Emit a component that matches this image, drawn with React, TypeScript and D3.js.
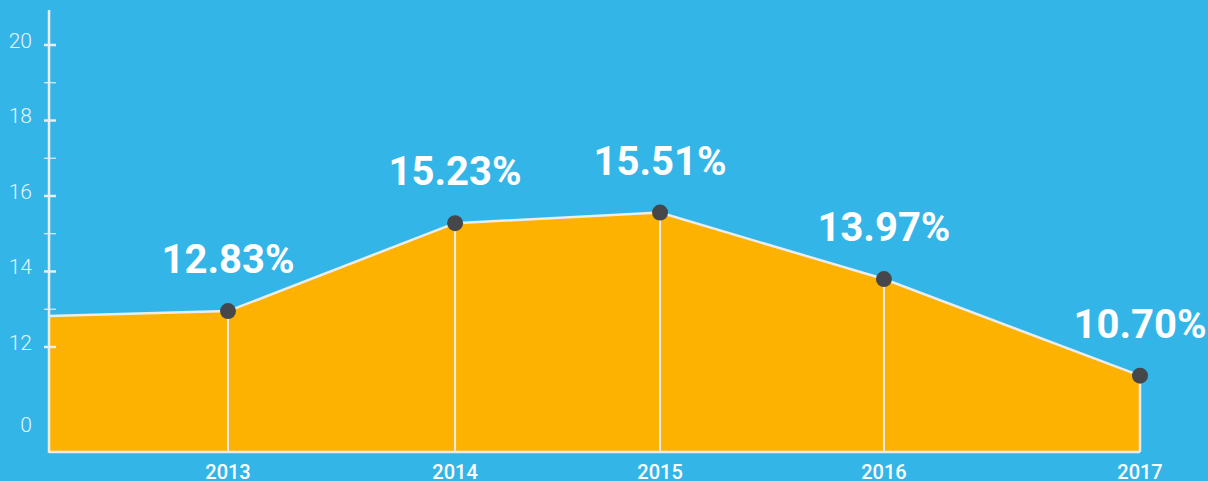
import React from "react";
import * as d3 from "d3";

// Data
const years = ["2013", "2014", "2015", "2016", "2017"];
const labels = ["12.83%", "15.23%", "15.51%", "13.97%", "10.70%"];
// plotted positions (x as decimal year, y as axis value)
const pointX = [2013, 2013.996, 2014.895, 2015.877, 2017];
const pointY = [12.95, 15.28, 15.56, 13.8, 11.24];
const startX = 2012.215;
const startY = 12.82;
const majorTicks = [0, 12, 14, 16, 18, 20];
const minorTicks = [13, 15, 17, 19];

const W = 1208;
const H = 481;
const BG = "#34B5E8";
const ORANGE = "#FDB100";
const LINE = "#EAEDEF";
const DOT = "#45474A";

export default function App() {
  const x = d3.scaleLinear().domain([2013, 2017]).range([228, 1140]);
  // broken axis: 0 sits just below the 12..20 segment
  const y = d3.scaleLinear().domain([0, 10.5, 20]).range([425, 403.6, 45]);
  const baseY = 452;
  const axisX = x(startX);

  const pts: [number, number][] = [[startX, startY], ...pointX.map((d, i) => [d, pointY[i]] as [number, number])];
  const area = d3
    .area<[number, number]>()
    .x((d) => x(d[0]))
    .y0(baseY)
    .y1((d) => y(d[1]));
  const line = d3
    .line<[number, number]>()
    .x((d) => x(d[0]))
    .y((d) => y(d[1]));

  const lastX = x(pointX[pointX.length - 1]);

  return (
    <svg
      width={W}
      height={H}
      style={{ position: "absolute", left: 0, top: 0, display: "block" }}
      fontFamily="Roboto, sans-serif"
    >
      <rect x={0} y={0} width={W} height={H} fill={BG} />
      <path d={area(pts) || ""} fill={ORANGE} />
      {pointX.map((d, i) => (
        <line key={"v" + i} x1={x(d)} x2={x(d)} y1={y(pointY[i])} y2={baseY} stroke={LINE} strokeWidth={2} />
      ))}
      <path d={line(pts) || ""} fill="none" stroke={LINE} strokeWidth={2.5} />
      <line x1={axisX} x2={lastX} y1={baseY} y2={baseY} stroke={LINE} strokeWidth={2.5} />
      <line x1={lastX} x2={lastX} y1={y(pointY[pointY.length - 1])} y2={baseY} stroke={LINE} strokeWidth={2.5} />
      {/* y axis */}
      <line x1={axisX} x2={axisX} y1={10} y2={baseY + 1} stroke={LINE} strokeWidth={2.5} />
      {majorTicks.filter((t) => t > 0).map((t) => (
        <line key={"M" + t} x1={44} x2={56} y1={y(t)} y2={y(t)} stroke={LINE} strokeWidth={2.5} />
      ))}
      {minorTicks.map((t) => (
        <line key={"m" + t} x1={44} x2={56} y1={y(t)} y2={y(t)} stroke={LINE} strokeWidth={1.2} />
      ))}
      {majorTicks.map((t) => (
        <text
          key={"t" + t}
          x={32}
          y={t === 0 ? 432 : y(t) + 3}
          textAnchor="end"
          fontSize={21}
          fontWeight={300}
          fill="#E6F4FB"
        >
          {t}
        </text>
      ))}
      {pointX.map((d, i) => (
        <circle key={"c" + i} cx={x(d)} cy={y(pointY[i])} r={8} fill={DOT} />
      ))}
      {pointX.map((d, i) => (
        <text
          key={"l" + i}
          x={x(d)}
          y={y(pointY[i]) - 38}
          textAnchor="middle"
          fontSize={40}
          fontWeight={700}
          fill="#FFFFFF"
        >
          {labels[i]}
        </text>
      ))}
      {pointX.map((d, i) => (
        <text
          key={"y" + i}
          x={x(d)}
          y={479}
          textAnchor="middle"
          fontSize={20}
          fontWeight={500}
          fill="#FFFFFF"
        >
          {years[i]}
        </text>
      ))}
    </svg>
  );
}
